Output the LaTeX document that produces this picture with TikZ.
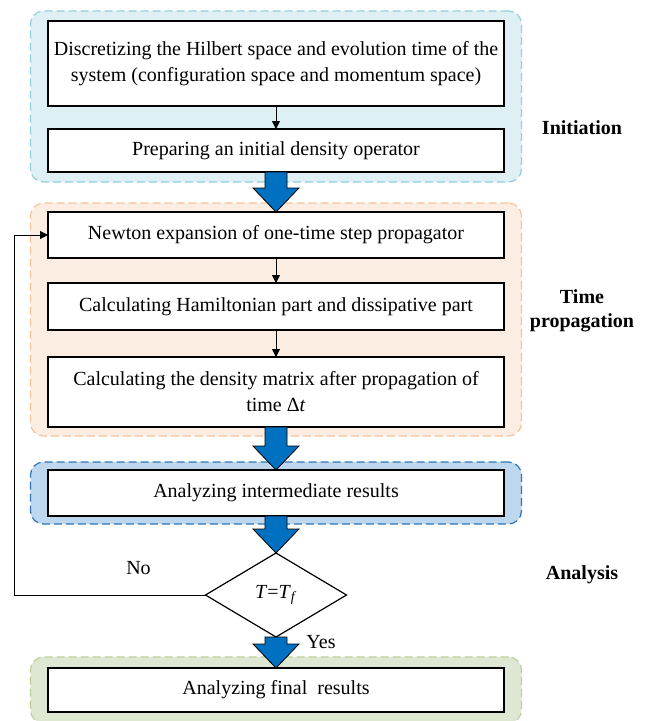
\documentclass[tikz,border=0pt]{standalone}
\usepackage{fontspec}
\setmainfont{Liberation Serif}
\usepackage{tikz}
\usetikzlibrary{arrows.meta,positioning,calc,fit,backgrounds,shapes.geometric}
\definecolor{initfill}{HTML}{DFF0F5}
\definecolor{initline}{HTML}{92CDDC}
\definecolor{propfill}{HTML}{FCEDE3}
\definecolor{propline}{HTML}{F7C298}
\definecolor{anafill}{HTML}{BDD7EE}
\definecolor{analine}{HTML}{2E75B6}
\definecolor{finfill}{HTML}{DDE7D1}
\definecolor{finline}{HTML}{BBD09A}
\definecolor{arrblue}{HTML}{0070C0}
\newcommand{\blockarrow}[2]{\draw[bigarr] ($(#1.south)+(-11pt,0)$) -- ($(#2.north)+(-11pt,24pt)$) -- ($(#2.north)+(-23pt,24pt)$) -- (#2.north) -- ($(#2.north)+(23pt,24pt)$) -- ($(#2.north)+(11pt,24pt)$) -- ($(#1.south)+(11pt,0)$) -- cycle;}

\begin{document}
\begin{tikzpicture}[every node/.style={font=\fontsize{20}{26}\selectfont}, box/.style={draw, line width=1.2pt, fill=white, align=center, minimum width=456pt, inner sep=0pt, outer sep=0pt}, grp/.style={rounded corners=13pt, dashed, dash pattern=on 8pt off 4pt, line width=1.2pt, inner xsep=17.5pt, inner ysep=10pt}, side/.style={font=\fontsize{20}{24}\selectfont\bfseries, align=center}, arr/.style={-{Triangle[length=8pt, width=8pt]}, line width=0.8pt}, bigarr/.style={fill=arrblue, draw=black, line width=0.8pt}]
\useasboundingbox (0,0) rectangle (646pt,-721pt);
\node[box, minimum height=85pt] (disc) at (276pt,-63.5pt) {Discretizing the Hilbert space and evolution time of the\\system (configuration space and momentum space)};
\node[box, minimum height=43pt, below=23pt of disc] (prep) {Preparing an initial density operator};
\node[box, minimum height=46pt, below=40pt of prep] (newton) {Newton expansion of one-time step propagator};
\node[box, minimum height=47pt, below=25pt of newton] (hamil) {Calculating Hamiltonian part and dissipative part};
\node[box, minimum height=70pt, below=27pt of hamil] (dens) {Calculating the density matrix after propagation of\\time Δ\textit{t}};
\node[box, minimum height=46pt, below=43pt of dens] (inter) {Analyzing intermediate results};
\node[diamond, draw, line width=1.2pt, fill=white, minimum width=141pt, minimum height=84pt, inner sep=0pt, outer sep=0pt, below=37pt of inter] (check) {\textit{T}=\textit{T}\textsubscript{\textit{f}}};
\node[box, minimum height=44pt, below=31pt of check] (final) {Analyzing final\ \ results};
% stage frames
\begin{scope}[on background layer]
\node[grp, fit=(disc)(prep), fill=initfill, draw=initline] (ginit) {};
\node[grp, fit=(newton)(dens), fill=propfill, draw=propline, inner ysep=9pt] (gprop) {};
\node[grp, fit=(inter), fill=anafill, draw=analine, inner ysep=8pt] (gana) {};
\node[grp, fit=(final), fill=finfill, draw=finline, inner ysep=11pt] (gfin) {};
\end{scope}
\node[side] (linit) at (582pt,-128pt) {Initiation};
\node[side] (lprop) at (582pt,-311pt) {Time\\propagation};
\node[side] (lana) at (582pt,-575pt) {Analysis};
\draw[arr] (disc) -- (prep);
\draw[arr] (newton) -- (hamil);
\draw[arr] (hamil) -- (dens);
\blockarrow{prep}{newton}
\blockarrow{dens}{inter}
\blockarrow{inter}{check}
\blockarrow{check}{final}
\draw[arr] (check.west) -- ++(-191pt,0) |- (newton.west);
\node (no) at ($(check.west)+(-67pt,27pt)$) {No};
\node (yes) at ($(check.south)+(45pt,-5pt)$) {Yes};
\end{tikzpicture}
\end{document}
